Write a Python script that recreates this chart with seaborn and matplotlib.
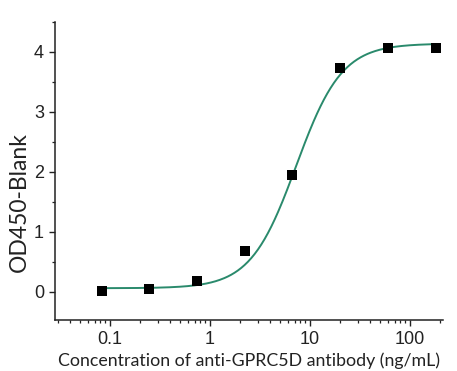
import numpy as np
import pandas as pd
import matplotlib
matplotlib.use("Agg")
import matplotlib.pyplot as plt
import seaborn as sns
from matplotlib.ticker import LogLocator, MultipleLocator, FixedLocator, FixedFormatter

# Data
concentration = [0.0823, 0.247, 0.741, 2.22, 6.67, 20.0, 60.0, 180.0]
od450 = [0.02, 0.05, 0.18, 0.68, 1.94, 3.73, 4.07, 4.06]
# 4PL fit parameters (bottom, top, EC50, hill)
fit_bottom = 0.06
fit_top = 4.14
fit_ec50 = 7.27
fit_hill = 1.9

x_ticks = [0.1, 1, 10, 100]
x_tick_labels = ["0.1", "1", "10", "100"]
y_ticks = [0, 1, 2, 3, 4]

df = pd.DataFrame({"conc": concentration, "od": od450})
xf = np.logspace(np.log10(concentration[0]), np.log10(concentration[-1]), 300)
yf = fit_bottom + (fit_top - fit_bottom) / (1 + (fit_ec50 / xf) ** fit_hill)
fit_df = pd.DataFrame({"conc": xf, "od": yf})

sns.set_style("ticks")
plt.rcParams["font.family"] = ["Liberation Sans", "DejaVu Sans"]

fig = plt.figure(figsize=(4.57, 3.71), dpi=100)
ax = fig.add_axes([55/457, 1 - 320/371, (443-55)/457, (320-22)/371])

sns.lineplot(data=fit_df, x="conc", y="od", ax=ax, color="#2a8a6c", linewidth=1.4)
sns.scatterplot(data=df, x="conc", y="od", ax=ax, marker="s", s=42, color="black",
                edgecolor="black", linewidth=0, zorder=5)

ax.set_xscale("log")
ax.set_xlim(10**-1.55, 10**2.33)
ax.set_ylim(-0.47, 4.5)
ax.xaxis.set_major_locator(FixedLocator(x_ticks))
ax.xaxis.set_major_formatter(FixedFormatter(x_tick_labels))
ax.xaxis.set_minor_locator(LogLocator(base=10, subs=np.arange(2, 10)))
ax.yaxis.set_major_locator(FixedLocator(y_ticks))
ax.yaxis.set_minor_locator(MultipleLocator(0.5))

for s in ["top", "right"]:
    ax.spines[s].set_visible(False)
for s in ["left", "bottom"]:
    ax.spines[s].set_linewidth(1.1)
    ax.spines[s].set_color("#222222")

ax.tick_params(which="major", length=4, width=1.0, labelsize=13, colors="#222222", pad=4)
ax.tick_params(which="minor", length=2.5, width=0.9, colors="#222222")

ax.set_ylabel("OD450-Blank", fontsize=16.5, color="#222222",
              family=["Lato", "DejaVu Sans"])
ax.yaxis.set_label_coords(-0.064, (320 - 202) / 298)
ax.set_xlabel("Concentration of anti-GPRC5D antibody (ng/mL)", fontsize=12.8,
              color="#222222", family=["Lato", "DejaVu Sans"], labelpad=3)

fig.savefig("out.png", dpi=100)
